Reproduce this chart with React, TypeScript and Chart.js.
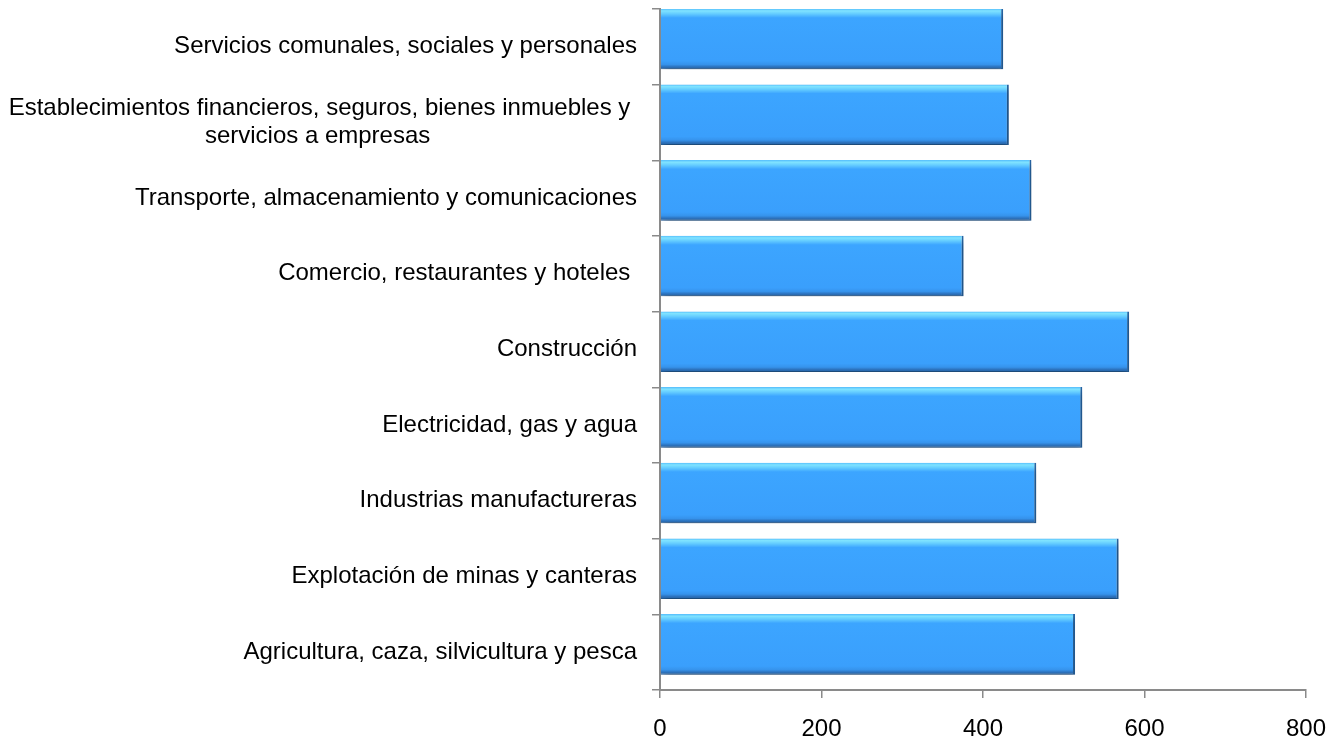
import React, { useEffect, useRef } from "react";
import { Chart, registerables } from "chart.js";

Chart.register(...registerables);

const categories: (string | string[])[] = [
  "Servicios comunales, sociales y personales",
  [
    "Establecimientos financieros, seguros, bienes inmuebles y ",
    "servicios a empresas" + " ".repeat(31),
  ],
  "Transporte, almacenamiento y comunicaciones",
  "Comercio, restaurantes y hoteles ",
  "Construcción",
  "Electricidad, gas y agua",
  "Industrias manufactureras",
  "Explotación de minas y canteras",
  "Agricultura, caza, silvicultura y pesca",
];

const values: number[] = [425, 432, 460, 376, 581, 523, 466, 568, 514];

const xTicks: number[] = [0, 200, 400, 600, 800];

const FONT = "'Liberation Sans', Arial, sans-serif";
const AXIS = "#8a8a8a";

const barShadow = {
  id: "barShadow",
  beforeDatasetsDraw(chart: any) {
    const ctx = chart.ctx;
    ctx.save();
    ctx.shadowColor = "rgba(0,0,0,0.30)";
    ctx.shadowBlur = 7;
    ctx.shadowOffsetX = 2;
    ctx.shadowOffsetY = 5;
  },
  afterDatasetsDraw(chart: any) {
    chart.ctx.restore();
  },
};

function barFill(c: any) {
  const chart = c.chart;
  const s = chart.scales && chart.scales.yb;
  if (!s || c.dataIndex === undefined || !isFinite(s.getPixelForValue(0))) return "#3aa2ff";
  const step = Math.abs(s.getPixelForValue(1) - s.getPixelForValue(0));
  const h = step * 0.8;
  const yc = s.getPixelForValue(c.dataIndex);
  const top = yc - h / 2;
  const g = chart.ctx.createLinearGradient(0, top, 0, top + h);
  g.addColorStop(0, "#55bdfc");
  g.addColorStop(0.035, "#80e3ff");
  g.addColorStop(0.08, "#66ceff");
  g.addColorStop(0.15, "#3ca5ff");
  g.addColorStop(0.86, "#3a9ffc");
  g.addColorStop(0.92, "#3693ec");
  g.addColorStop(0.96, "#2c72bd");
  g.addColorStop(1, "#25609e");
  return g;
}

export default function App() {
  const ref = useRef<HTMLCanvasElement | null>(null);

  useEffect(() => {
    if (!ref.current) return;
    const chart = new Chart(ref.current, {
      type: "bar",
      data: {
        labels: categories as any,
        datasets: [
          {
            data: values.map((v, i) => ({ x: v, y: i })) as any,
            xAxisID: "x",
            yAxisID: "yb",
            backgroundColor: barFill as any,
            borderColor: "#2766a6",
            borderWidth: { top: 0, right: 2, bottom: 1, left: 0 } as any,
            borderSkipped: false as any,
            barPercentage: 0.8,
            categoryPercentage: 1,
          },
        ],
      },
      options: {
        indexAxis: "y",
        animation: false,
        responsive: true,
        maintainAspectRatio: false,
        layout: { padding: { top: 9, right: 35, bottom: 0, left: 0 } },
        plugins: {
          legend: { display: false },
          tooltip: { enabled: false },
        },
        scales: {
          x: {
            type: "linear",
            position: "bottom",
            min: 0,
            max: 800,
            afterBuildTicks: (s: any) => {
              s.ticks = xTicks.map((v) => ({ value: v }));
            },
            afterFit: (s: any) => {
              s.height = 50;
              s.paddingLeft = 0;
              s.paddingRight = 0;
            },
            grid: {
              drawOnChartArea: false,
              drawTicks: true,
              tickLength: 8,
              color: AXIS,
              lineWidth: 1.5,
            },
            border: { display: true, color: AXIS, width: 2 },
            ticks: {
              color: "#000",
              font: { family: FONT, size: 24 },
              padding: 17,
            },
          },
          y: {
            type: "category",
            position: "left",
            offset: true,
            afterFit: (s: any) => {
              s.width = 660;
              s.paddingTop = 0;
              s.paddingBottom = 0;
            },
            grid: {
              offset: true,
              drawOnChartArea: false,
              drawTicks: true,
              tickLength: 8,
              color: AXIS,
              lineWidth: 1.5,
            },
            border: { display: true, color: AXIS, width: 2 },
            ticks: {
              color: "#000",
              font: { family: FONT, size: 24, lineHeight: 1.17 },
              padding: 15,
              autoSkip: false,
            },
          },
          yb: {
            type: "linear",
            display: false,
            reverse: true,
            offset: false,
            min: -0.397,
            max: 8.603,
            grid: { offset: false },
            afterBuildTicks: (s: any) => {
              s.ticks = values.map((_, i) => ({ value: i }));
            },
            afterFit: (s: any) => {
              s.paddingTop = 0;
              s.paddingBottom = 0;
            },
          },
        },
      },
      plugins: [barShadow],
    });
    return () => chart.destroy();
  }, []);

  return (
    <div style={{ position: "fixed", left: 0, top: 0, width: 1341, height: 740, background: "#fff" }}>
      <canvas ref={ref} />
    </div>
  );
}
